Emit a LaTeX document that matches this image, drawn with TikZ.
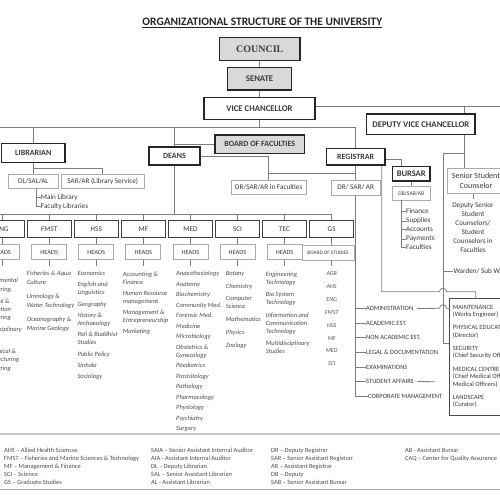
\documentclass[tikz,border=0pt]{standalone}
\usepackage{fontspec}
\setmainfont{Carlito}
\newfontfamily\councilfont{Liberation Serif}
\usepackage{tikz}
\usepackage{xcolor}
\definecolor{LineGray}{HTML}{7F7F7F}
\definecolor{BoxGray}{HTML}{D9D9D9}
\definecolor{TextGray}{HTML}{3A3A3A}
\definecolor{ListGray}{HTML}{4D4D4D}
\newcommand{\fsz}[2]{\fontsize{#1}{#2}\selectfont}
\newcommand{\fl}[1]{\rule{0pt}{#1}}

\tikzset{
  conn/.style={draw=LineGray, line width=0.8pt},
  topbox/.style={draw=black!85, line width=1.3pt, fill=white, inner sep=0pt,
                 text=TextGray, font=\bfseries\fsz{8.7}{10}},
  grayfill/.style={fill=BoxGray},
  subbox/.style={draw=gray!65, line width=0.7pt, fill=white, inner sep=0pt,
                 text=TextGray, font=\fsz{7.2}{8}},
  facbox/.style={draw=black!75, line width=1.2pt, fill=white, inner sep=0pt,
                 minimum width=44pt, minimum height=17pt, text=TextGray, font=\fsz{7.2}{8}},
  headbox/.style={subbox, minimum width=35pt, minimum height=15pt, font=\fsz{6.4}{8}},
  litem/.style={inner sep=0pt, anchor=north west, align=left, text=ListGray},
  ritem/.style={inner sep=0pt, anchor=base west, text=TextGray, font=\fsz{6.5}{8}},
}

\begin{document}
\begin{tikzpicture}[x=1pt, y=-1pt]
\useasboundingbox (0,0) rectangle (500,500);
\clip (0,0) rectangle (500,500);
\fill[white] (0,0) rectangle (500,500);

% title
\node[inner sep=0pt, anchor=base, text=black!85, font=\bfseries\fsz{11.4}{13}] (title) at (262.3,25.3)
  {\underline{ORGANIZATIONAL STRUCTURE OF THE UNIVERSITY}};

% top of the tree
\node[topbox, grayfill, minimum width=80.7pt, minimum height=22.6pt,
      font=\councilfont\bfseries\fsz{10}{12}] (council) at (259.7,49) {COUNCIL};
\node[topbox, grayfill, minimum width=64.4pt, minimum height=22.3pt] (senate) at (259.5,78.8) {SENATE};
\node[topbox, minimum width=111pt, minimum height=22pt] (vc) at (259.5,108.3) {VICE CHANCELLOR};
\node[topbox, minimum width=108.3pt, minimum height=20.7pt] (dvc) at (420.8,124.3) {DEPUTY VICE CHANCELLOR};
\node[topbox, minimum width=63.3pt, minimum height=19.4pt, font=\bfseries\fsz{8}{9}] (lib) at (33.3,153) {LIBRARIAN};
\node[topbox, minimum width=51pt, minimum height=18pt, font=\bfseries\fsz{8}{9}] (deans) at (174.5,156) {DEANS};
\node[topbox, grayfill, minimum width=89.5pt, minimum height=18.5pt, font=\bfseries\fsz{8}{9}] (bof) at (259.7,144.2) {BOARD OF FACULTIES};
\node[topbox, minimum width=58.5pt, minimum height=16.7pt, font=\bfseries\fsz{8}{9}] (reg) at (355.7,156.7) {REGISTRAR};

% second level
\node[subbox, minimum width=50pt, minimum height=14pt] (dl) at (33.3,181.3) {DL/SAL/AL};
\node[subbox, minimum width=82.3pt, minimum height=14pt] (sarlib) at (102.8,181.3) {SAR/AR (Library Service)};
\node[subbox, minimum width=74.3pt, minimum height=14pt] (drfac) at (268.8,187.5) {DR/SAR/AR in Faculties};
\node[subbox, minimum width=49.5pt, minimum height=15pt] (drreg) at (355.7,187.5) {DR/ SAR/ AR};
\node[topbox, minimum width=37.7pt, minimum height=14.3pt, font=\bfseries\fsz{8.5}{10}] (bursar) at (411.2,173.8) {BURSAR};
\node[subbox, minimum width=37.7pt, minimum height=13.3pt, font=\fsz{5.6}{7}] (db) at (411.2,193.3) {DB/SAB/AB};
\node[subbox, minimum width=58pt, minimum height=25.3pt, align=center, font=\fsz{8}{9.5}] (ssc) at (476,180.7) {Senior Student\\Counselor};

\node[ritem, font=\fsz{7.2}{8}] (mainlib) at (40.7,199) {Main Library};
\node[ritem, font=\fsz{7.2}{8}] (faclib) at (40.7,208) {Faculty Libraries};

\foreach \t [count=\i] in {Finance,Supplies,Accounts,Payments,Faculties}
  \node[ritem, font=\fsz{7.2}{8}] (bur\i) at (406,{211.7+9*(\i-1)+2.2}) {\t};

\node[inner sep=0pt, anchor=north, align=center, text=TextGray, font=\fsz{7.2}{9}] (dssc) at (473,201.5)
  {\fl{6pt}Deputy Senior\\Student\\Counselors/\\Student\\Counselors in\\Faculties};
\node[ritem, font=\fsz{7.2}{8}] (warden) at (453.3,273.5) {Warden/ Sub Wardens};

% faculties
\foreach \n/\t [count=\i from 0] in {eng/ENG,fmst/FMST,hss/HSS,mf/MF,med/MED,sci/SCI,tec/TEC,gs/GS}
  \node[facbox] (\n) at ({2.1+47.08*\i},229) {\t};
\foreach \n [count=\i from 0] in {eng,fmst,hss,mf,med,sci,tec}
  \node[headbox] (head\n) at ({2.1+47.08*\i},252) {HEADS};
\node[headbox, minimum width=52pt, font=\fsz{5.2}{6}] (headgs) at (328,252.5) {BOARD OF STUDIES};

\node[litem, font=\itshape\fsz{6.5}{8.4}] (englist) at (-20.4,277.7)
  {\fl{5pt}Environmental\\Engineering.\\[3.3pt]Electrical \&\\Information\\Engineering\\[3.3pt]Interdisciplinary\\[13.3pt]Mechanical \&\\Manufacturing\\Engineering};
\node[litem, font=\itshape\fsz{6.5}{9}] (fmstlist) at (26.7,270.3)
  {\fl{5pt}Fisheries \& Aqua\\Culture\\[5pt]Limnology \&\\Water Technology\\[5pt]Oceanography \&\\Marine Geology};
\node[litem, font=\itshape\fsz{6.5}{8}] (hsslist) at (77.3,270.3)
  {\fl{5pt}Economics\\[3.3pt]English and\\Linguistics\\[3.3pt]Geography\\[3.3pt]History \&\\Archaeology\\[3.3pt]Pali \& Buddhist\\Studies\\[3.3pt]Public Policy\\[3.3pt]Sinhala\\[3.3pt]Sociology};
\node[litem, font=\itshape\fsz{6.5}{8}] (mflist) at (122.7,271)
  {\fl{5pt}Accounting \&\\Finance\\[3pt]Human Resource\\management\\[3pt]Management \&\\Entrepreneurship\\[3pt]Marketing};
\node[litem, font=\itshape\fsz{6.5}{8}] (medlist) at (176,270.3)
  {\fl{5pt}Anaesthesiology\\[2.5pt]Anatomy\\[2.5pt]Biochemistry\\[2.5pt]Community Med.\\[2.5pt]Forensic Med.\\[2.5pt]Medicine\\[2.5pt]Microbiology\\[2.5pt]Obstetrics \&\\Gynecology\\[2.5pt]Paediatrics\\[2.5pt]Parasitology\\[2.5pt]Pathology\\[2.5pt]Pharmacology\\[2.5pt]Physiology\\[2.5pt]Psychiatry\\[2.5pt]Surgery};
\node[litem, font=\itshape\fsz{6.5}{8}] (scilist) at (225.7,270.3)
  {\fl{5pt}Botany\\[4.7pt]Chemistry\\[4.7pt]Computer\\Science\\[4.7pt]Mathematics\\[4.7pt]Physics\\[4.7pt]Zoology};
\node[litem, font=\itshape\fsz{6.5}{8}] (teclist) at (265.7,271)
  {\fl{5pt}Engineering\\Technology\\[4.5pt]Bio System\\Technology\\[4.5pt]Information and\\Communication\\Technology\\[4.5pt]Multidisciplinary\\Studies};
\node[litem, anchor=north, align=center, font=\itshape\fsz{6}{8}] (gslist) at (331.7,270.3)
  {\fl{5pt}AGR\\[4.9pt]AHS\\[4.9pt]ENG\\[4.9pt]FMST\\[4.9pt]HSS\\[4.9pt]MF\\[4.9pt]MED\\[4.9pt]SCI};

% registrar list
\foreach \t/\xx [count=\i] in {ADMINISTRATION/366,ACADEMIC EST./366,NON ACADEMIC EST./366,
    LEGAL \& DOCUMENTATION/366,EXAMINATIONS/366,STUDENT AFFAIRS/366,CORPORATE MANAGEMENT/368}
  \node[ritem] (rl\i) at (\xx,{308.3+14.6*(\i-1)+2.3}) {\t};

% services box
\node[draw=black!70, line width=0.9pt, fill=white, inner sep=0pt, anchor=north west,
      minimum width=62pt, minimum height=116.7pt] (maint) at (449.3,298.3) {};
\node[ritem, anchor=north west, align=left, font=\fsz{6.5}{7.5}] (mainttext) at (452.7,304)
  {\fl{5pt}MAINTENANCE\\(Works Engineer)\\[5.6pt]PHYSICAL EDUCATION\\(Director)\\[5.6pt]SECURITY\\(Chief Security Officer)\\[5.6pt]MEDICAL CENTRE\\(Chief Medical Officer/\\Medical Officers)\\[5.6pt]LANDSCAPE\\(Curator)};

% connectors
\coordinate (vcj) at (259.5,127);
\coordinate (topleft) at (-10,127);
\coordinate (rightend) at (510,106);
\coordinate (dvcbend) at (464,153);
\coordinate (mj) at (443,343.3);
\coordinate (libj) at (33.3,168);
\coordinate (regj) at (355.7,173);
\coordinate (facbar) at (-10,214);
\coordinate (sae) at (435,381.7);

\draw[conn] (council.south) -- (senate.north);
\draw[conn] (senate.south) -- (vc.north);
\draw[conn] (vc.south) -- (vcj);
\draw[conn] (topleft) -| (reg.north);
\draw[conn] (lib.north) -- (lib.north |- vcj);
\draw[conn] (deans.north) -- (deans.north |- vcj);
\draw[conn] (deans.north |- bof.west) -- (bof.west);
\draw[conn] (vc.east |- rightend) -- (rightend);
\draw[conn] (dvc.north -| dvcbend) -- (dvcbend |- rightend);
\draw[conn] (dvc.south -| dvcbend) -- (ssc.north -| dvcbend);
\draw[conn] (dvcbend) -| (mj) -- (mj -| maint.west);
\draw[conn] (warden.west -| mj) -- (warden.west);
\draw[conn] ([xshift=-3pt]ssc.south) -- ++(0,5);

\draw[conn] (lib.south) -- (dl.north);
\draw[conn] (libj) -| (sarlib.north);
\draw[conn] ([xshift=2.7pt]dl.south) |- (mainlib.west);
\draw[conn] ([xshift=2.7pt]dl.south) |- (faclib.west);

\draw[conn] (deans.east) -| (drfac.north);
\draw[conn] (reg.south) -- (drreg.north);
\draw[conn] (regj) -- (regj -| drfac.north);
\draw[conn] ([yshift=-2.6pt]reg.east) -| ([xshift=-10.2pt]bursar.north);
\draw[conn] (bursar.south) -- (db.north);
\foreach \i in {1,...,5}
  \draw[conn] ([xshift=-10.2pt]db.south) |- (bur\i.west);

\foreach \i in {1,...,7}
  \draw[conn] (drreg.south) |- (rl\i.west);
\draw[conn] ([xshift=3.5pt]rl1.east) -- (439.5,308.3) arc[start angle=180, end angle=360, radius=3.5] -- (maint.west |- 0,308.3);
\draw[conn] ([xshift=26pt]reg.south) |- (439.5,291.7) arc[start angle=180, end angle=360, radius=3.5] -| ([xshift=26.4pt]maint.north west);
\draw[conn] ([xshift=3.5pt]rl6.east) -- (sae);

\draw[conn] (deans.south) -- (deans.south |- facbar);
\draw[conn] (facbar) -- (facbar -| gs.north);
\foreach \n in {eng,fmst,hss,mf,med,sci,tec,gs} {
  \draw[conn] (\n.north) -- (\n.north |- facbar);
  \draw[conn] (\n.south) -- (\n.south |- head\n.north);
  \draw[conn] (\n.south |- head\n.south) -- ++(0,6);
}

% legend
\node[draw=gray!60, line width=0.8pt, fill=white, inner sep=0pt, anchor=north west,
      minimum width=520pt, minimum height=55.3pt] (legend) at (-10,434) {};
\draw[gray!45, line width=2pt] (legend.north west) -- (legend.north east);
\node[ritem, anchor=north west, align=left, text=ListGray, font=\fsz{6.4}{7.9}] (leg1) at (4,447.5)
  {\fl{5pt}AHS -- Allied Health Sciences\\FMST -- Fisheries and Marine Sciences \& Technology\\MF -- Management \& Finance\\SCI -- Science\\GS -- Graduate Studies};
\node[ritem, anchor=north west, align=left, text=ListGray, font=\fsz{6.4}{7.9}] (leg2) at (151,447.5)
  {\fl{5pt}SAIA -- Senior Assistant Internal Auditor\\AIA - Assistant Internal Auditor\\DL -- Deputy Librarian\\SAL -- Senior Assistant Librarian\\AL - Assistant Librarian};
\node[ritem, anchor=north west, align=left, text=ListGray, font=\fsz{6.4}{7.9}] (leg3) at (271,447.5)
  {\fl{5pt}DR -- Deputy Registrar\\SAR -- Senior Assistant Registrar\\AR -- Assistant Registrar\\DB -- Deputy\\SAB -- Senior Assistant Bursar};
\node[ritem, anchor=north west, align=left, text=ListGray, font=\fsz{6.4}{7.9}] (leg4) at (405,447.5)
  {\fl{5pt}AB - Assistant Bursar\\CAQ -- Center for Quality Assurance};
\end{tikzpicture}
\end{document}
